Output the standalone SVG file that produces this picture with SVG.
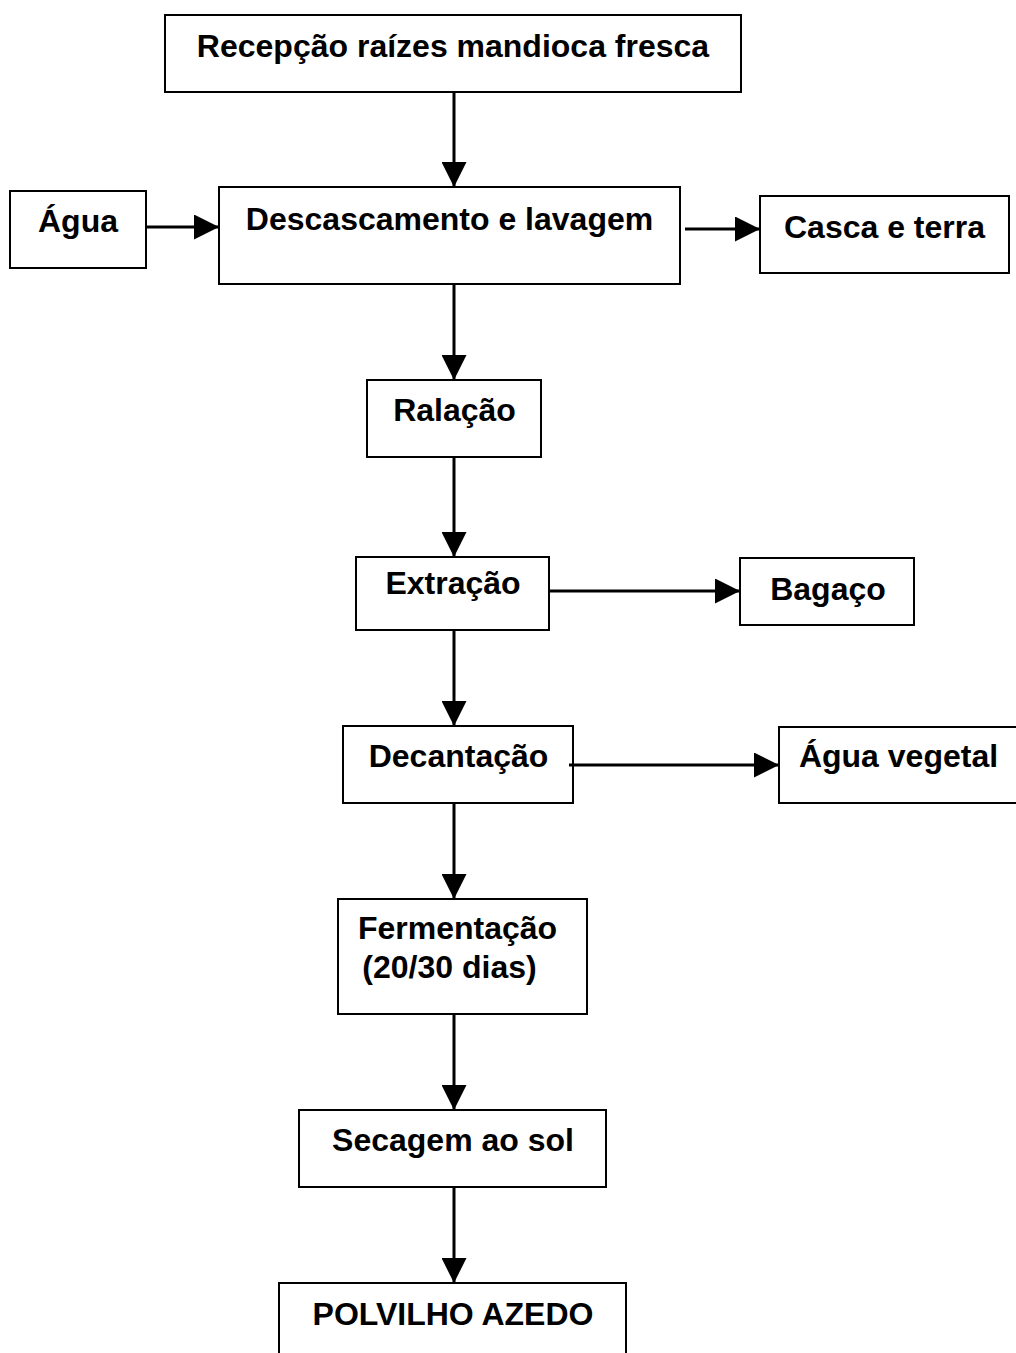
<svg xmlns="http://www.w3.org/2000/svg" width="1016" height="1353" viewBox="0 0 1016 1353">
<style>
.box{fill:#fff;stroke:#000;stroke-width:2}
.t{font-family:"Liberation Sans",Arial,sans-serif;font-weight:bold;font-size:32px;fill:#000;text-anchor:middle}
.c{stroke:#000;stroke-width:3;fill:none}
</style>
<defs>
<marker id="ah" viewBox="0 0 10 10" refX="10" refY="5" markerUnits="userSpaceOnUse" markerWidth="26" markerHeight="25" orient="auto">
<path d="M0,0 L10,5 L0,10 Z" fill="#000"/>
</marker>
</defs>
<rect width="1016" height="1353" fill="#fff"/>
<g id="recepcao"><rect class="box" x="165" y="15" width="576" height="77"/><text class="t" x="453" y="57">Recepção raízes mandioca fresca</text></g>
<g id="agua"><rect class="box" x="10" y="191" width="136" height="77"/><text class="t" x="78" y="232">Água</text></g>
<g id="descascamento"><rect class="box" x="219" y="187" width="461" height="97"/><text class="t" x="449.5" y="230">Descascamento e lavagem</text></g>
<g id="casca"><rect class="box" x="760" y="196" width="249" height="77"/><text class="t" x="884.5" y="238">Casca e terra</text></g>
<g id="ralacao"><rect class="box" x="367" y="380" width="174" height="77"/><text class="t" x="454.5" y="421">Ralação</text></g>
<g id="extracao"><rect class="box" x="356" y="557" width="193" height="73"/><text class="t" x="453" y="594">Extração</text></g>
<g id="bagaco"><rect class="box" x="740" y="558" width="174" height="67"/><text class="t" x="828" y="600">Bagaço</text></g>
<g id="decantacao"><rect class="box" x="343" y="726" width="230" height="77"/><text class="t" x="458.5" y="767">Decantação</text></g>
<g id="agua-vegetal"><rect class="box" x="779" y="727" width="250" height="76"/><text class="t" x="898.5" y="767">Água vegetal</text></g>
<g id="fermentacao"><rect class="box" x="338" y="899" width="249" height="115"/><text class="t" x="457.5" y="939">Fermentação</text><text class="t" x="449.5" y="978">(20/30 dias)</text></g>
<g id="secagem"><rect class="box" x="299" y="1110" width="307" height="77"/><text class="t" x="453" y="1151">Secagem ao sol</text></g>
<g id="polvilho"><rect class="box" x="279" y="1283" width="347" height="80"/><text class="t" x="453" y="1325">POLVILHO AZEDO</text></g>
<g id="connectors">
<line class="c" x1="454" y1="92" x2="454" y2="187" marker-end="url(#ah)"/>
<line class="c" x1="146" y1="227" x2="219" y2="227" marker-end="url(#ah)"/>
<line class="c" x1="685" y1="229" x2="760" y2="229" marker-end="url(#ah)"/>
<line class="c" x1="454" y1="284" x2="454" y2="380" marker-end="url(#ah)"/>
<line class="c" x1="454" y1="457" x2="454" y2="557" marker-end="url(#ah)"/>
<line class="c" x1="549" y1="591" x2="740" y2="591" marker-end="url(#ah)"/>
<line class="c" x1="454" y1="630" x2="454" y2="726" marker-end="url(#ah)"/>
<line class="c" x1="569" y1="765" x2="779" y2="765" marker-end="url(#ah)"/>
<line class="c" x1="454" y1="803" x2="454" y2="899" marker-end="url(#ah)"/>
<line class="c" x1="454" y1="1014" x2="454" y2="1110" marker-end="url(#ah)"/>
<line class="c" x1="454" y1="1187" x2="454" y2="1283" marker-end="url(#ah)"/>
</g>
</svg>
